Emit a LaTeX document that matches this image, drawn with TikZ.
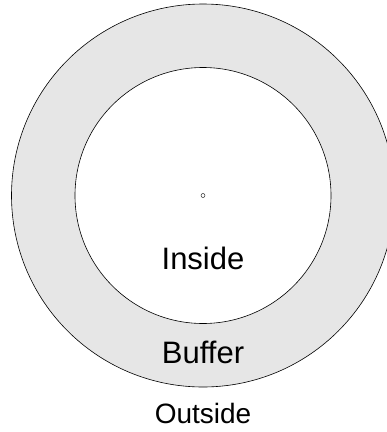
\documentclass[tikz,border=0pt]{standalone}
\usepackage{fontspec}
\setmainfont{Liberation Sans}
\definecolor{buffergray}{HTML}{E6E6E6}
\begin{document}
\begin{tikzpicture}[x=1pt, y=1pt,
  ring/.style={draw, circle, line width=0.6pt, inner sep=0pt},
  label/.style={anchor=base, inner sep=0pt, font=\fontsize{31}{37}\selectfont}
]
\useasboundingbox (0,0) rectangle (387,-432);
\node[ring, fill=buffergray, minimum size=383pt] (outer) at (203,-195.5) {};
\node[ring, fill=white, minimum size=256pt] (inner) at (203,-195.5) {};
\node[ring, line width=0.4pt, minimum size=4pt] (centre) at (203,-195.5) {};
\node[label] (inside) at (203,-269) {Inside};
\node[label] (buffer) at (203,-363) {Buffer};
\node[label, font=\fontsize{28}{34}\selectfont] (outside) at (203,-423) {Outside};
\end{tikzpicture}
\end{document}
